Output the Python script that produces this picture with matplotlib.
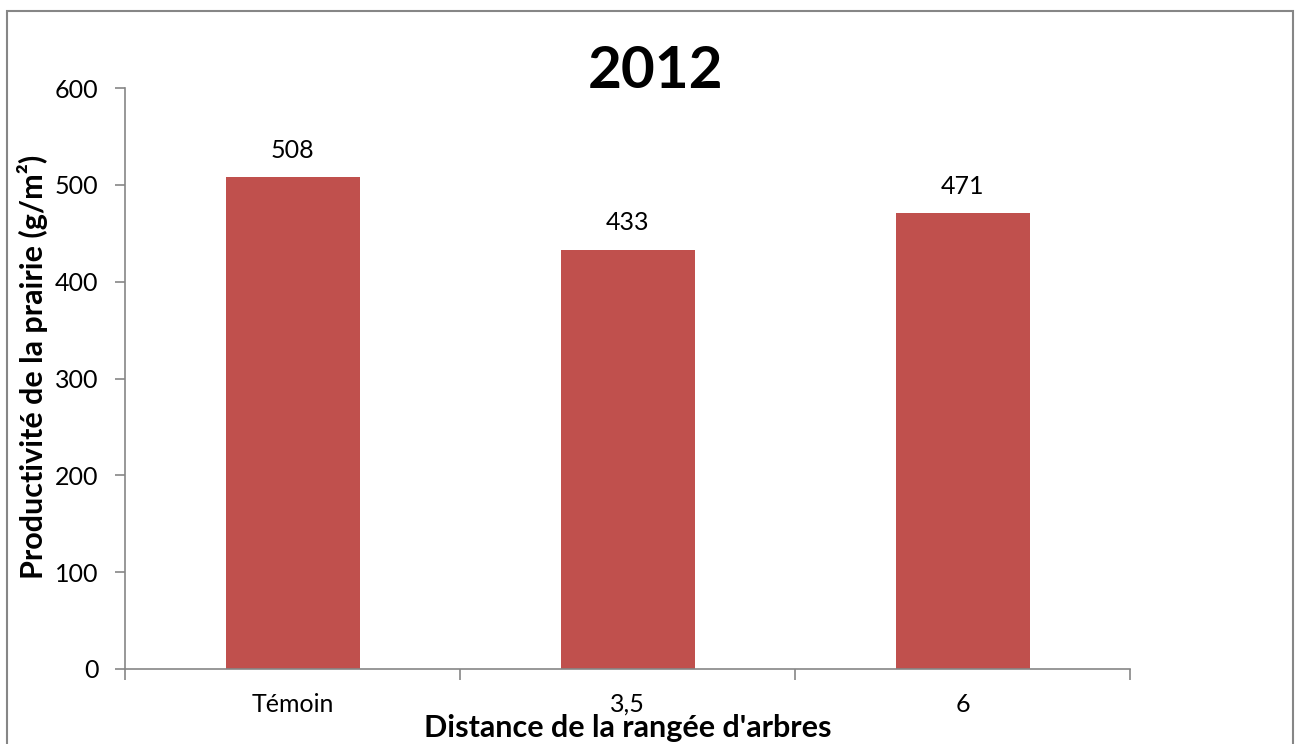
import matplotlib
matplotlib.use("Agg")
import matplotlib.pyplot as plt
from matplotlib.patches import Rectangle

# ── Data ──────────────────────────────────
categories = ["Témoin", "3,5", "6"]
productivity = [508, 433, 471]
y_ticks = [0, 100, 200, 300, 400, 500, 600]

BAR_COLOR = "#C0504D"
AXIS_COLOR = "#868686"
FONT = ["Lato", "DejaVu Sans"]

plt.rcParams["font.family"] = FONT

W, H = 1295, 744
fig = plt.figure(figsize=(W / 100, H / 100), dpi=100)

# outer chart frame (Excel style)
fig.patches.append(Rectangle((7 / W, -0.05), (1293 - 7) / W, 1.05 - 11 / H,
                             transform=fig.transFigure, fill=False,
                             edgecolor=AXIS_COLOR, lw=1.5))

ax = fig.add_axes([125 / W, 75 / H, (1130 - 125) / W, (669 - 88) / H])

x = list(range(len(categories)))
ax.bar(x, productivity, width=0.4, color=BAR_COLOR, zorder=2)
for xi, v in zip(x, productivity):
    ax.annotate(f"{v}", (xi, v), xytext=(0, 11), textcoords="offset points",
                ha="center", va="bottom", fontsize=18)

ax.set_xlim(-0.5, len(categories) - 0.5)
ax.set_ylim(0, 600)
ax.set_yticks(y_ticks)
ax.tick_params(axis="y", labelsize=18, length=7, width=1.2, color=AXIS_COLOR, pad=12)

# category labels centred, tick marks between categories
ax.set_xticks(x)
ax.set_xticklabels(categories, fontsize=18)
ax.tick_params(axis="x", which="major", length=0, pad=17)
ax.set_xticks([i - 0.5 for i in range(len(categories) + 1)], minor=True)
ax.tick_params(axis="x", which="minor", length=8, width=1.2, color=AXIS_COLOR)

for side in ["top", "right"]:
    ax.spines[side].set_visible(False)
for side in ["left", "bottom"]:
    ax.spines[side].set_color(AXIS_COLOR)
    ax.spines[side].set_linewidth(1.2)

ax.set_xlabel("Distance de la rangée d'arbres", fontsize=22, fontweight="bold")
ax.xaxis.set_label_coords(0.5, -0.078)
ax.set_ylabel("Productivité de la prairie (g/m²)", fontsize=22, fontweight="bold")
ax.yaxis.set_label_coords(-0.077, 0.52)

fig.text(655 / W, 1 - 72 / H, "2012", ha="center", va="center",
         fontsize=42, fontweight="bold")

fig.savefig("out.png", dpi=100)
